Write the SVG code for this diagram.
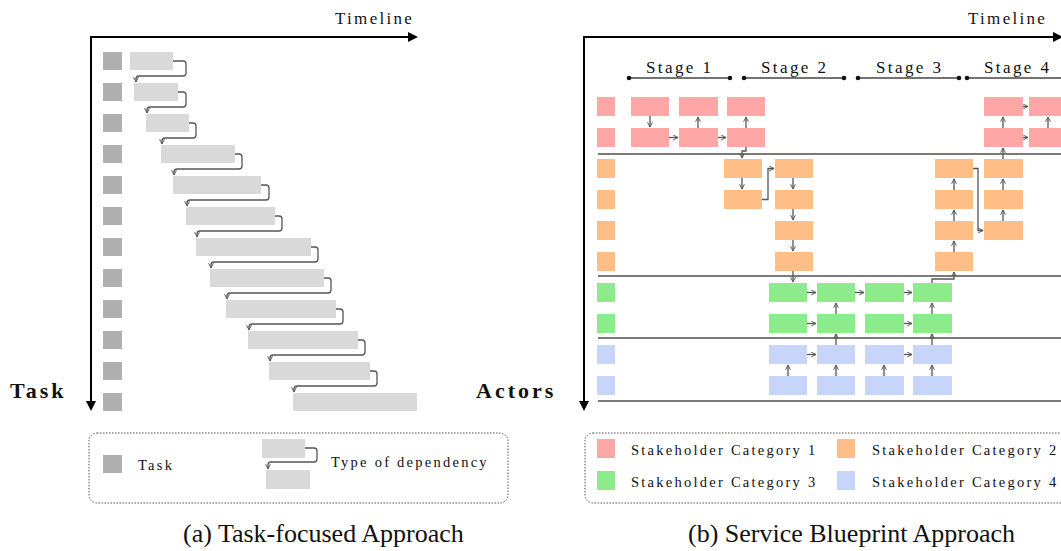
<svg xmlns="http://www.w3.org/2000/svg" width="1061" height="551" viewBox="0 0 1061 551">
<defs>
<marker id="ah" viewBox="0 0 10 10" refX="9" refY="5" markerWidth="6" markerHeight="6" markerUnits="userSpaceOnUse" orient="auto"><path d="M1,1 L9,5 L1,9" fill="none" stroke="#555" stroke-width="1.6"/></marker>
<marker id="axis" viewBox="0 0 10 10" refX="8" refY="5" markerWidth="10" markerHeight="10" markerUnits="userSpaceOnUse" orient="auto"><path d="M0,0 L10,5 L0,10 z" fill="#000"/></marker>
<style>
.ax{stroke:#000;stroke-width:2;fill:none;marker-end:url(#axis)}
.t{fill:#b0b0b0}
.b{fill:#d9d9d9}
.p{fill:#ffa6a6}
.o{fill:#ffbe85}
.g{fill:#8cec8c}
.u{fill:#c8d5fb}
.c{fill:none;stroke:#555;stroke-width:1.3;marker-end:url(#ah)}
.dep{fill:none;stroke:#555;stroke-width:1.3;stroke-linejoin:round;marker-end:url(#ah)}
.lane{stroke:#7a7a7a;stroke-width:1.8}
.stg{stroke:#444;stroke-width:1.3}
.dot{fill:#111}
.leg{fill:none;stroke:#555;stroke-width:1;stroke-dasharray:1.5 1.5}
text{font-family:"Liberation Serif","Times New Roman",serif;fill:#111}
.tl{font-size:17px;letter-spacing:2.3px}
.st{font-size:17px;letter-spacing:2.4px}
.lg{font-size:14.5px;letter-spacing:2.25px}
.lab{font-size:22px;font-weight:bold;letter-spacing:3px}
.cap{font-size:26px}
</style>
</defs>

<!-- ===== Panel (a) ===== -->
<g id="a-axes">
<line class="ax" x1="91" y1="37" x2="416" y2="37"/>
<line class="ax" x1="91" y1="36" x2="91" y2="409"/>
<text class="tl" x="335" y="24">Timeline</text>
<text class="lab" x="10" y="398">Task</text>
</g>

<g id="a-tasks">
<rect class="t" x="103" y="52" width="19" height="18"/>
<rect class="t" x="103" y="83" width="19" height="18"/>
<rect class="t" x="103" y="114" width="19" height="18"/>
<rect class="t" x="103" y="145" width="19" height="18"/>
<rect class="t" x="103" y="176" width="19" height="18"/>
<rect class="t" x="103" y="207" width="19" height="18"/>
<rect class="t" x="103" y="238" width="19" height="18"/>
<rect class="t" x="103" y="269" width="19" height="18"/>
<rect class="t" x="103" y="300" width="19" height="18"/>
<rect class="t" x="103" y="331" width="19" height="18"/>
<rect class="t" x="103" y="362" width="19" height="18"/>
<rect class="t" x="103" y="393" width="19" height="18"/>
</g>

<g id="a-bars">
<rect class="b" x="130" y="52" width="43" height="18"/>
<rect class="b" x="134" y="83" width="44" height="18"/>
<rect class="b" x="146" y="114" width="43" height="18"/>
<rect class="b" x="161" y="145" width="74" height="18"/>
<rect class="b" x="173" y="176" width="88" height="18"/>
<rect class="b" x="186" y="207" width="89" height="18"/>
<rect class="b" x="196" y="238" width="115" height="18"/>
<rect class="b" x="210" y="269" width="114" height="18"/>
<rect class="b" x="226" y="300" width="110" height="18"/>
<rect class="b" x="248" y="331" width="110" height="18"/>
<rect class="b" x="269" y="362" width="101" height="18"/>
<rect class="b" x="293" y="393" width="124" height="18"/>
</g>

<g id="a-connectors">
<path class="dep" d="M173,61 H183 Q186,61 186,64 V73 Q186,76 183,76 H139 Q136,76 136,79 V82"/>
<path class="dep" d="M178,92 H183 Q186,92 186,95 V104 Q186,107 183,107 H150 Q147,107 147,110 V113"/>
<path class="dep" d="M189,123 H193 Q196,123 196,126 V135 Q196,138 193,138 H165 Q162,138 162,141 V144"/>
<path class="dep" d="M235,154 H239 Q242,154 242,157 V166 Q242,169 239,169 H177 Q174,169 174,172 V175"/>
<path class="dep" d="M261,185 H266 Q269,185 269,188 V197 Q269,200 266,200 H190 Q187,200 187,203 V206"/>
<path class="dep" d="M275,216 H279 Q282,216 282,219 V228 Q282,231 279,231 H200 Q197,231 197,234 V237"/>
<path class="dep" d="M311,247 H315 Q318,247 318,250 V259 Q318,262 315,262 H214 Q211,262 211,265 V268"/>
<path class="dep" d="M324,278 H328 Q331,278 331,281 V290 Q331,293 328,293 H230 Q227,293 227,296 V299"/>
<path class="dep" d="M336,309 H340 Q343,309 343,312 V321 Q343,324 340,324 H252 Q249,324 249,327 V330"/>
<path class="dep" d="M358,340 H362 Q365,340 365,343 V352 Q365,355 362,355 H273 Q270,355 270,358 V361"/>
<path class="dep" d="M370,371 H374 Q377,371 377,374 V383 Q377,386 374,386 H297 Q294,386 294,389 V392"/>
</g>

<g id="a-legend">
<rect class="leg" x="89" y="433" width="419" height="70" rx="8"/>
<rect class="t" x="103" y="455" width="19" height="18"/>
<text class="lg" x="138" y="470">Task</text>
<rect class="b" x="262" y="439" width="43" height="19"/>
<rect class="b" x="266" y="470" width="44" height="19"/>
<path class="dep" d="M305,448 H314 Q317,448 317,451 V459 Q317,462 314,462 H271 Q268,462 268,465 V469"/>
<text class="lg" x="331" y="467">Type of dependency</text>
</g>
<text class="cap" x="183" y="542">(a) Task-focused Approach</text>

<!-- ===== Panel (b) ===== -->
<g id="b-axes">
<line class="ax" x1="584" y1="37" x2="1061" y2="37"/>
<line class="ax" x1="584" y1="36" x2="584" y2="409"/>
<text class="tl" x="968" y="24">Timeline</text>
<text class="lab" x="476" y="398">Actors</text>
</g>

<g id="b-stages">
<text class="st" x="646" y="73">Stage 1</text>
<text class="st" x="761" y="73">Stage 2</text>
<text class="st" x="876" y="73">Stage 3</text>
<text class="st" x="984" y="73">Stage 4</text>
<line class="stg" x1="629" y1="78" x2="730" y2="78"/>
<line class="stg" x1="744" y1="78" x2="844" y2="78"/>
<line class="stg" x1="858" y1="78" x2="959" y2="78"/>
<line class="stg" x1="967" y1="78" x2="1061" y2="78"/>
<circle class="dot" cx="629" cy="78" r="2.3"/>
<circle class="dot" cx="730" cy="78" r="2.3"/>
<circle class="dot" cx="744" cy="78" r="2.3"/>
<circle class="dot" cx="844" cy="78" r="2.3"/>
<circle class="dot" cx="858" cy="78" r="2.3"/>
<circle class="dot" cx="959" cy="78" r="2.3"/>
<circle class="dot" cx="967" cy="78" r="2.3"/>
</g>

<g id="b-lanes">
<line class="lane" x1="598" y1="154" x2="1061" y2="154"/>
<line class="lane" x1="598" y1="276" x2="1061" y2="276"/>
<line class="lane" x1="598" y1="338" x2="1061" y2="338"/>
<line class="lane" x1="598" y1="401" x2="1061" y2="401"/>
</g>

<g id="b-actors">
<rect class="p" x="597" y="97" width="18" height="19"/>
<rect class="p" x="597" y="128" width="18" height="19"/>
<rect class="o" x="597" y="159" width="18" height="19"/>
<rect class="o" x="597" y="190" width="18" height="19"/>
<rect class="o" x="597" y="221" width="18" height="19"/>
<rect class="o" x="597" y="252" width="18" height="19"/>
<rect class="g" x="597" y="283" width="18" height="19"/>
<rect class="g" x="597" y="314" width="18" height="19"/>
<rect class="u" x="597" y="345" width="18" height="19"/>
<rect class="u" x="597" y="376" width="18" height="19"/>
</g>

<g id="b-cat1">
<rect class="p" x="631" y="97" width="38" height="19"/>
<rect class="p" x="679" y="97" width="39" height="19"/>
<rect class="p" x="727" y="97" width="38" height="19"/>
<rect class="p" x="631" y="128" width="38" height="19"/>
<rect class="p" x="679" y="128" width="39" height="19"/>
<rect class="p" x="727" y="128" width="38" height="19"/>
<rect class="p" x="984" y="97" width="39" height="19"/>
<rect class="p" x="1029" y="97" width="39" height="19"/>
<rect class="p" x="984" y="128" width="39" height="19"/>
<rect class="p" x="1029" y="128" width="39" height="19"/>
</g>

<g id="b-cat2">
<rect class="o" x="724" y="159" width="38" height="19"/>
<rect class="o" x="724" y="190" width="38" height="19"/>
<rect class="o" x="775" y="159" width="38" height="19"/>
<rect class="o" x="775" y="190" width="38" height="19"/>
<rect class="o" x="775" y="221" width="38" height="19"/>
<rect class="o" x="775" y="252" width="38" height="19"/>
<rect class="o" x="935" y="159" width="38" height="19"/>
<rect class="o" x="935" y="190" width="38" height="19"/>
<rect class="o" x="935" y="221" width="38" height="19"/>
<rect class="o" x="935" y="252" width="38" height="19"/>
<rect class="o" x="984" y="159" width="39" height="19"/>
<rect class="o" x="984" y="190" width="39" height="19"/>
<rect class="o" x="984" y="221" width="39" height="19"/>
</g>

<g id="b-cat3">
<rect class="g" x="769" y="283" width="38" height="19"/>
<rect class="g" x="817" y="283" width="38" height="19"/>
<rect class="g" x="865" y="283" width="39" height="19"/>
<rect class="g" x="913" y="283" width="39" height="19"/>
<rect class="g" x="769" y="314" width="38" height="19"/>
<rect class="g" x="817" y="314" width="38" height="19"/>
<rect class="g" x="865" y="314" width="39" height="19"/>
<rect class="g" x="913" y="314" width="39" height="19"/>
</g>

<g id="b-cat4">
<rect class="u" x="769" y="345" width="38" height="19"/>
<rect class="u" x="817" y="345" width="38" height="19"/>
<rect class="u" x="865" y="345" width="39" height="19"/>
<rect class="u" x="913" y="345" width="39" height="19"/>
<rect class="u" x="769" y="376" width="38" height="19"/>
<rect class="u" x="817" y="376" width="38" height="19"/>
<rect class="u" x="865" y="376" width="39" height="19"/>
<rect class="u" x="913" y="376" width="39" height="19"/>
</g>

<g id="b-connectors">
<path class="c" d="M650,116 V127"/>
<path class="c" d="M669,137.5 H678"/>
<path class="c" d="M698,128 V117"/>
<path class="c" d="M718,137.5 H726"/>
<path class="c" d="M746,128 V117"/>
<path class="c" d="M746,147 V151 H742 V158"/>
<path class="c" d="M742,178 V189"/>
<path class="c" d="M762,199.5 H768 V168.5 H774"/>
<path class="c" d="M793,178 V189"/>
<path class="c" d="M793,209 V220"/>
<path class="c" d="M793,240 V251"/>
<path class="c" d="M793,271 V282"/>
<path class="c" d="M807,292.5 H816"/>
<path class="c" d="M855,292.5 H864"/>
<path class="c" d="M904,292.5 H912"/>
<path class="c" d="M932,283 V279 H954 V272"/>
<path class="c" d="M807,323.5 H816"/>
<path class="c" d="M904,323.5 H912"/>
<path class="c" d="M836,314 V303"/>
<path class="c" d="M932,314 V303"/>
<path class="c" d="M836,345 V334"/>
<path class="c" d="M932,345 V334"/>
<path class="c" d="M807,354.5 H816"/>
<path class="c" d="M904,354.5 H912"/>
<path class="c" d="M788,376 V365"/>
<path class="c" d="M836,376 V365"/>
<path class="c" d="M884,376 V365"/>
<path class="c" d="M932,376 V365"/>
<path class="c" d="M954,252 V241"/>
<path class="c" d="M954,221 V210"/>
<path class="c" d="M954,190 V179"/>
<path class="c" d="M973,168.5 H978 V230.5 H983"/>
<path class="c" d="M1003,221 V210"/>
<path class="c" d="M1003,190 V179"/>
<path class="c" d="M1003,159 V148"/>
<path class="c" d="M1003,128 V117"/>
<path class="c" d="M1023,137.5 H1028"/>
<path class="c" d="M1023,106.5 H1028"/>
<path class="c" d="M1048,128 V117"/>
</g>

<g id="b-legend">
<rect class="leg" x="585" y="433" width="500" height="70" rx="8"/>
<rect class="p" x="597" y="439" width="18" height="19"/>
<rect class="o" x="837" y="439" width="18" height="19"/>
<rect class="g" x="597" y="471" width="18" height="19"/>
<rect class="u" x="837" y="471" width="18" height="19"/>
<text class="lg" x="631" y="455">Stakeholder Category 1</text>
<text class="lg" x="872" y="455">Stakeholder Category 2</text>
<text class="lg" x="631" y="487">Stakeholder Category 3</text>
<text class="lg" x="872" y="487">Stakeholder Category 4</text>
</g>
<text class="cap" x="688" y="542">(b) Service Blueprint Approach</text>
</svg>
